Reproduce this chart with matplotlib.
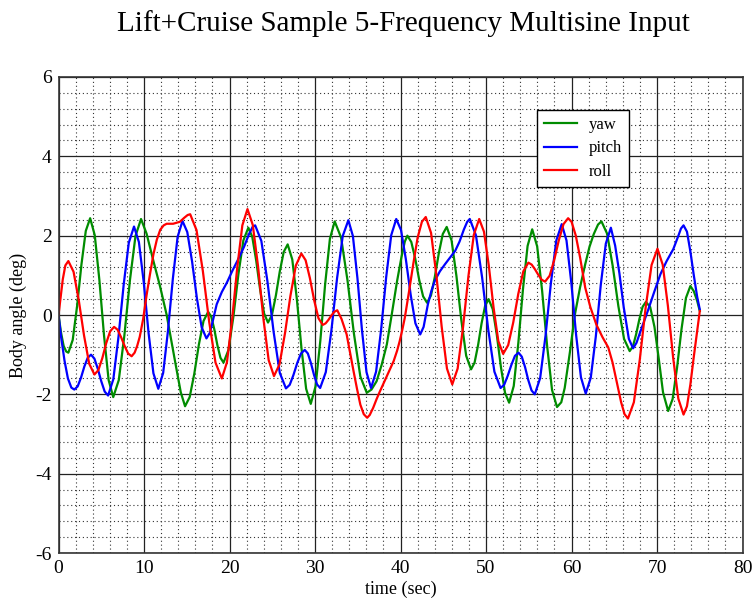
import matplotlib
matplotlib.use("Agg")
import matplotlib.pyplot as plt
from matplotlib.ticker import MultipleLocator

plt.rcParams['font.family'] = ['Liberation Serif', 'DejaVu Serif']
plt.rcParams['axes.unicode_minus'] = False

# yaw input (deg) vs time (sec)
yaw_t = [0, 0.3, 0.6, 0.9, 1.15, 1.66, 2.17, 2.68, 3.19, 3.7,
         4.24, 4.78, 5.32, 5.86, 6.4, 7.05, 7.7, 8.35, 9.0, 9.65,
         10.3, 11.1, 11.9, 12.65, 13.4, 13.7, 14.3, 14.8,
         15.34, 15.88, 16.42, 16.96, 17.5, 17.86, 18.22, 18.58, 18.94, 19.3,
         19.88, 20.46, 21.04, 21.62, 22.2, 22.66, 23.12, 23.58, 24.04, 24.5,
         24.96, 25.42, 25.88, 26.34, 26.8, 27.34, 27.88, 28.42, 28.96, 29.5,
         30.06, 30.62, 31.18, 31.74, 32.3, 33.05, 33.8, 34.55, 35.3, 36.05,
         36.6, 37.2, 37.8, 38.4, 39.0, 39.6, 40.1, 40.5, 40.8,
         41.26, 41.72, 42.18, 42.64, 43.1, 43.56, 44.02, 44.48, 44.94, 45.4,
         45.97, 46.54, 47.11, 47.68, 48.25, 48.66, 49.07, 49.48, 49.89, 50.3,
         50.78, 51.26, 51.74, 52.22, 52.7, 53.24, 53.78, 54.32, 54.86, 55.4,
         55.98, 56.56, 57.14, 57.72, 58.3, 58.8, 59.2, 59.8, 60.4, 61.0,
         61.6, 62.1, 62.6, 63.1, 63.5, 64.16, 64.82, 65.48, 66.14, 66.8,
         67.18, 67.56, 67.94, 68.32, 68.7, 69.2, 69.7, 70.2, 70.7, 71.3,
         71.82, 72.34, 72.86, 73.38, 73.9, 74.3, 74.7, 75.0]
yaw = [0, -0.45, -0.78, -0.92, -0.95, -0.63, 0.22, 1.27, 2.12, 2.44,
       2.01, 0.88, -0.51, -1.64, -2.07, -1.64, -0.52, 0.87, 1.99, 2.42,
       2.05, 1.36, 0.7, 0.0, -0.9, -1.25, -1.95, -2.3,
       -2.07, -1.48, -0.74, -0.15, 0.08, -0.04, -0.36, -0.76, -1.08, -1.2,
       -0.88, -0.03, 1.03, 1.88, 2.2, 1.97, 1.37, 0.64, 0.04, -0.19,
       0.0, 0.49, 1.1, 1.59, 1.78, 1.4, 0.39, -0.85, -1.86, -2.24,
       -1.8, -0.65, 0.77, 1.92, 2.36, 1.95, 0.87, -0.47, -1.55, -1.96,
       -1.88, -1.67, -1.25, -0.74, 0.05, 0.86, 1.45, 1.85, 2.0,
       1.84, 1.42, 0.89, 0.47, 0.31, 0.49, 0.97, 1.56, 2.04, 2.22,
       1.88, 0.98, -0.13, -1.03, -1.37, -1.2, -0.76, -0.21, 0.23, 0.4,
       0.15, -0.5, -1.31, -1.96, -2.21, -1.79, -0.7, 0.65, 1.74, 2.16,
       1.73, 0.61, -0.77, -1.89, -2.32, -2.2, -1.84, -0.95, 0.02, 0.7,
       1.28, 1.72, 2.04, 2.28, 2.36, 2.05, 1.23, 0.22, -0.6, -0.91,
       -0.79, -0.48, -0.1, 0.21, 0.33, 0.2, -0.3, -1.1, -1.95, -2.42,
       -2.12, -1.33, -0.36, 0.43, 0.73, 0.6, 0.35, 0.1]

# pitch input (deg) vs time (sec)
pitch_t = [0, 0.3, 0.7, 1.1, 1.5, 1.85, 2.24, 2.63, 3.02, 3.41, 3.8,
           4.2, 4.6, 5.0, 5.4, 5.8, 6.41, 7.01, 7.62, 8.22, 8.83,
           9.4, 9.97, 10.53, 11.1, 11.67, 12.24, 12.8, 13.37, 13.93, 14.5,
           15.06, 15.62, 16.18, 16.74, 17.3, 17.7, 18.1, 18.5, 19.1, 19.7,
           20.3, 21.0, 21.7, 22.3, 22.7, 23.0, 23.72, 24.44, 25.16, 25.88, 26.6,
           27.04, 27.48, 27.92, 28.36, 28.8, 29.16, 29.52, 29.88, 30.24, 30.6,
           31.26, 31.92, 32.58, 33.24, 33.9, 34.43, 34.96, 35.49, 36.02, 36.55,
           37.14, 37.73, 38.32, 38.91, 39.5, 40.06, 40.62, 41.18, 41.74, 42.3,
           42.7, 43.2, 43.6, 44.0, 44.6, 45.2, 45.8, 46.4, 46.9, 47.4, 47.8, 48.1,
           48.82, 49.54, 50.26, 50.98, 51.7, 52.12, 52.54, 52.96, 53.38, 53.8,
           54.18, 54.56, 54.94, 55.32, 55.7, 56.33, 56.96, 57.59, 58.22, 58.85,
           59.41, 59.97, 60.54, 61.1, 61.66, 62.25, 62.84, 63.42, 64.01, 64.6,
           65.1, 65.6, 66.1, 66.7, 67.2, 67.6, 68.0, 68.5, 68.98, 69.7, 70.4,
           71.1, 71.9, 72.5, 72.8, 73.1, 73.5, 73.9, 74.3, 74.7, 75.0]
pitch = [0, -0.55, -1.15, -1.6, -1.83, -1.88, -1.8, -1.58, -1.3, -1.08, -1.0,
         -1.1, -1.36, -1.67, -1.93, -2.03, -1.62, -0.56, 0.76, 1.82, 2.23,
         1.84, 0.82, -0.45, -1.47, -1.86, -1.46, -0.4, 0.91, 1.97, 2.37,
         2.09, 1.35, 0.43, -0.31, -0.59, -0.45, -0.1, 0.27, 0.58, 0.82,
         1.1, 1.4, 1.72, 2.05, 2.22, 2.26, 1.87, 0.84, -0.43, -1.46, -1.85,
         -1.76, -1.51, -1.21, -0.97, -0.88, -0.97, -1.21, -1.51, -1.75, -1.84,
         -1.44, -0.38, 0.93, 1.99, 2.39, 1.99, 0.93, -0.38, -1.44, -1.84,
         -1.43, -0.37, 0.95, 2.01, 2.42, 2.14, 1.41, 0.52, -0.21, -0.49,
         -0.3, 0.27, 0.6, 0.86, 1.1, 1.28, 1.45, 1.62, 1.85, 2.15, 2.35, 2.42,
         2.01, 0.95, -0.37, -1.43, -1.84, -1.76, -1.53, -1.26, -1.03, -0.95,
         -1.05, -1.31, -1.64, -1.9, -2.0, -1.59, -0.52, 0.81, 1.88, 2.29,
         1.88, 0.82, -0.51, -1.57, -1.98, -1.58, -0.54, 0.76, 1.8, 2.2,
         1.75, 1.05, 0.2, -0.6, -0.84, -0.7, -0.45, -0.15, 0.14, 0.6, 1.03,
         1.35, 1.66, 2.0, 2.18, 2.26, 2.1, 1.6, 1.0, 0.45, 0.14]

# roll input (deg) vs time (sec)
roll_t = [0, 0.25, 0.5, 0.8, 1.15, 1.76, 2.37, 2.98, 3.59, 4.2,
          4.66, 5.12, 5.58, 6.04, 6.5, 6.91, 7.32, 7.73, 8.14, 8.55,
          8.9, 9.2, 9.5, 9.9, 10.3, 10.7, 11.1, 11.5, 11.9, 12.3, 12.65,
          13.4, 14.2, 14.7, 15.1, 15.4, 16.14, 16.88, 17.62, 18.36, 19.1,
          19.7, 20.3, 20.9, 21.5, 22.1, 22.72, 23.34, 23.96, 24.58, 25.2,
          25.84, 26.48, 27.12, 27.76, 28.4, 28.9, 29.4, 29.9, 30.4, 30.9,
          31.24, 31.58, 31.92, 32.26, 32.6, 33.1, 33.7, 34.1, 34.5, 34.9,
          35.3, 35.7, 36.1, 36.4, 36.8, 37.2, 37.6, 38.4, 39.2, 39.6, 39.9,
          40.2, 40.5, 41.0, 41.5, 42.0, 42.5, 42.95, 43.57, 44.19, 44.81, 45.43,
          46.05, 46.68, 47.31, 47.94, 48.57, 49.2, 49.76, 50.32, 50.88, 51.44,
          52.0, 52.59, 53.18, 53.77, 54.36, 54.95, 55.34, 55.73, 56.12, 56.51,
          56.9, 57.44, 57.98, 58.52, 59.06, 59.6, 60.0, 60.5, 61.0, 61.6,
          62.2, 62.9, 63.6, 64.3, 64.8, 65.3, 65.8, 66.2, 66.6, 67.29,
          67.98, 68.67, 69.36, 70.05, 70.66, 71.27, 71.88, 72.49, 73.1,
          73.5, 73.9, 74.3, 74.7, 75.0]
roll = [0, 0.45, 0.9, 1.25, 1.36, 1.09, 0.37, -0.51, -1.23, -1.5,
        -1.39, -1.09, -0.71, -0.41, -0.3, -0.37, -0.56, -0.78, -0.97, -1.04,
        -0.95, -0.78, -0.55, -0.1, 0.5, 1.03, 1.53, 1.9, 2.15, 2.26, 2.3,
        2.3, 2.35, 2.45, 2.52, 2.54, 2.14, 1.11, -0.17, -1.2, -1.6,
        -1.19, -0.12, 1.19, 2.26, 2.67, 2.27, 1.22, -0.09, -1.14, -1.54,
        -1.25, -0.47, 0.48, 1.25, 1.55, 1.38, 0.93, 0.37, -0.08, -0.25,
        -0.21, -0.12, -0.01, 0.08, 0.12, -0.1, -0.49, -0.95, -1.41, -1.85,
        -2.26, -2.5, -2.59, -2.52, -2.34, -2.12, -1.92, -1.54, -1.16, -0.9, -0.66,
        -0.38, -0.07, 0.6, 1.3, 1.95, 2.35, 2.47, 2.07, 1.01, -0.29, -1.35,
        -1.75, -1.35, -0.31, 0.98, 2.02, 2.42, 2.1, 1.25, 0.19, -0.66,
        -0.98, -0.76, -0.19, 0.53, 1.1, 1.32, 1.27, 1.15, 1.01, 0.89,
        0.84, 0.99, 1.39, 1.89, 2.29, 2.44, 2.35, 2.0, 1.45, 0.69,
        0.2, -0.24, -0.55, -0.82, -1.2, -1.7, -2.2, -2.5, -2.61, -2.2,
        -1.13, 0.19, 1.26, 1.67, 1.27, 0.23, -1.07, -2.11, -2.51,
        -2.3, -1.75, -1.05, -0.4, 0.1]

fig = plt.figure(figsize=(7.56, 6.0), dpi=100)
ax = fig.add_axes([0.0774, 0.0783, 0.9048, 0.7934])

ax.plot(yaw_t, yaw, color='#008c00', lw=1.6, label='yaw')
ax.plot(pitch_t, pitch, color='#0000ff', lw=1.6, label='pitch')
ax.plot(roll_t, roll, color='#ff0000', lw=1.6, label='roll')

ax.set_xlim(0, 80)
ax.set_ylim(-6, 6)
ax.xaxis.set_major_locator(MultipleLocator(10))
ax.xaxis.set_minor_locator(MultipleLocator(2))
ax.yaxis.set_major_locator(MultipleLocator(2))
ax.yaxis.set_minor_locator(MultipleLocator(0.4))

ax.grid(which='major', color='#222222', lw=0.9, ls='-')
ax.grid(which='minor', color='#333333', lw=0.8, ls=(0, (1, 2.5)))
ax.set_axisbelow(True)
ax.tick_params(which='both', direction='in', length=0, labelsize=14, pad=5)
for s in ax.spines.values():
    s.set_color('#333333')
    s.set_linewidth(1.2)

ax.set_xlabel('time (sec)', fontsize=13, labelpad=3)
ax.set_ylabel('Body angle (deg)', fontsize=13, labelpad=6)
fig.text(0.533, 0.96, 'Lift+Cruise Sample 5-Frequency Multisine Input',
         ha='center', va='center', fontsize=21)

leg = ax.legend(loc='upper left', bbox_to_anchor=(0.70, 0.93), fontsize=12,
                frameon=True, fancybox=False, framealpha=1, edgecolor='black',
                handlelength=2.0, handletextpad=0.7, borderpad=0.4,
                labelspacing=0.45, borderaxespad=0)
leg.get_frame().set_linewidth(1.0)

fig.savefig('out.png', dpi=100)
